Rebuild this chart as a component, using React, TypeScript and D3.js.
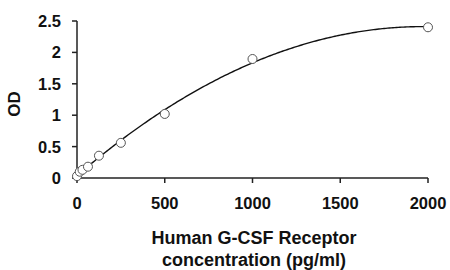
import React, { useEffect, useRef } from "react";
import * as d3 from "d3";

// standard points
const concentrations = [0, 15.6, 31.25, 62.5, 125, 250, 500, 1000, 2000];
const odValues = [0.03, 0.1, 0.13, 0.18, 0.355, 0.56, 1.02, 1.895, 2.4];
const xTicks = [0, 500, 1000, 1500, 2000];
const yTicks = [0, 0.5, 1, 1.5, 2, 2.5];
const xTitle = ["Human G-CSF Receptor", "concentration (pg/ml)"];
const yTitle = "OD";

// least squares 2nd order polynomial, like an Excel trendline
function polyFit(xs: number[], ys: number[]) {
  const s = [0, 0, 0, 0, 0];
  const t = [0, 0, 0];
  xs.forEach((x, i) => {
    for (let k = 0; k < 5; k++) s[k] += Math.pow(x, k);
    for (let k = 0; k < 3; k++) t[k] += ys[i] * Math.pow(x, k);
  });
  const m = [
    [s[0], s[1], s[2], t[0]],
    [s[1], s[2], s[3], t[1]],
    [s[2], s[3], s[4], t[2]],
  ];
  for (let i = 0; i < 3; i++) {
    for (let j = i + 1; j < 3; j++) {
      const f = m[j][i] / m[i][i];
      for (let k = i; k < 4; k++) m[j][k] -= f * m[i][k];
    }
  }
  const c = [0, 0, 0];
  for (let i = 2; i >= 0; i--) {
    let v = m[i][3];
    for (let k = i + 1; k < 3; k++) v -= m[i][k] * c[k];
    c[i] = v / m[i][i];
  }
  return c;
}

const App: React.FC = () => {
  const svgRef = useRef(null);

  useEffect(() => {
    const width = 450;
    const height = 270;
    const svg = d3.select(svgRef.current).attr("width", width).attr("height", height);
    svg.selectAll("*").remove();

    const x = d3.scaleLinear().domain([0, 2000]).range([77, 428]);
    const y = d3.scaleLinear().domain([0, 2.5]).range([178, 21]);
    const font = "'Liberation Sans', Arial, sans-serif";
    const axisColor = "#222";

    const g = svg.append("g").style("font-family", font);

    // fitted curve
    const coef = polyFit(concentrations, odValues);
    const curvePts = d3.range(0, 2001, 10).map((c) => [c, coef[0] + coef[1] * c + coef[2] * c * c]);
    const line = d3
      .line()
      .x((d: any) => x(d[0]))
      .y((d: any) => y(d[1]));
    g.append("path")
      .datum(curvePts)
      .attr("d", line as any)
      .attr("fill", "none")
      .attr("stroke", "#111")
      .attr("stroke-width", 1.4);

    // axes
    g.append("line")
      .attr("x1", x(0)).attr("x2", x(2000))
      .attr("y1", y(0)).attr("y2", y(0))
      .attr("stroke", axisColor).attr("stroke-width", 1.5);
    g.append("line")
      .attr("x1", x(0)).attr("x2", x(0))
      .attr("y1", y(0)).attr("y2", y(2.5))
      .attr("stroke", axisColor).attr("stroke-width", 1.5);

    g.selectAll(".xt")
      .data(xTicks)
      .enter()
      .append("line")
      .attr("x1", (d) => x(d)).attr("x2", (d) => x(d))
      .attr("y1", y(0)).attr("y2", y(0) + 5)
      .attr("stroke", axisColor).attr("stroke-width", 1.5);
    g.selectAll(".xl")
      .data(xTicks)
      .enter()
      .append("text")
      .attr("x", (d) => x(d))
      .attr("y", 209)
      .attr("text-anchor", "middle")
      .style("font-size", "16.5px")
      .style("font-weight", "bold")
      .style("fill", "#111")
      .text((d) => d);

    g.selectAll(".yt")
      .data(yTicks)
      .enter()
      .append("line")
      .attr("x1", x(0) - 5).attr("x2", x(0))
      .attr("y1", (d) => y(d)).attr("y2", (d) => y(d))
      .attr("stroke", axisColor).attr("stroke-width", 1.5);
    g.selectAll(".yl")
      .data(yTicks)
      .enter()
      .append("text")
      .attr("x", 61)
      .attr("y", (d) => y(d) + 6)
      .attr("text-anchor", "end")
      .style("font-size", "16.5px")
      .style("font-weight", "bold")
      .style("fill", "#111")
      .text((d) => d);

    // points
    g.selectAll("circle")
      .data(concentrations)
      .enter()
      .append("circle")
      .attr("cx", (d) => x(d))
      .attr("cy", (_, i) => y(odValues[i]))
      .attr("r", 4.5)
      .attr("fill", "white")
      .attr("stroke", "#555")
      .attr("stroke-width", 1);

    // titles
    g.selectAll(".xtitle")
      .data(xTitle)
      .enter()
      .append("text")
      .attr("x", 254)
      .attr("y", (_, i) => 244 + i * 22)
      .attr("text-anchor", "middle")
      .style("font-size", "18px")
      .style("font-weight", "bold")
      .style("fill", "#111")
      .text((d) => d);

    g.append("text")
      .attr("transform", "translate(20,104) rotate(-90)")
      .attr("text-anchor", "middle")
      .style("font-size", "17px")
      .style("font-weight", "bold")
      .style("fill", "#111")
      .text(yTitle);
  }, []);

  return (
    <svg
      ref={svgRef}
      width={450}
      height={270}
      style={{ position: "absolute", left: 0, top: 0, background: "white" }}
    />
  );
};

export default App;
